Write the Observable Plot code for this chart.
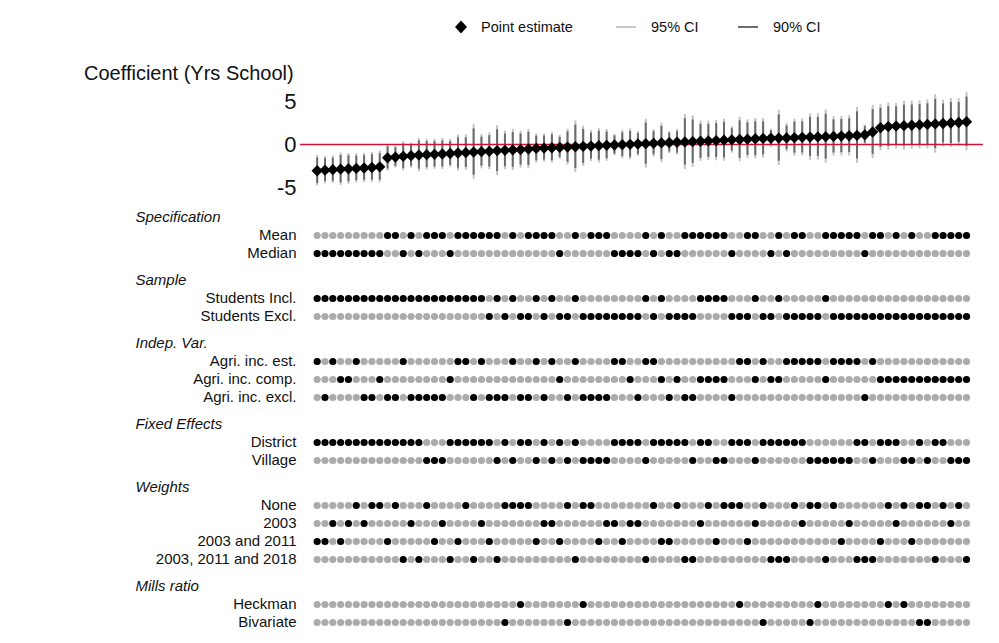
<!DOCTYPE html>
<html><head><meta charset="utf-8">
<script src="https://cdn.jsdelivr.net/npm/d3@7"></script>
<script src="https://cdn.jsdelivr.net/npm/@observablehq/plot@0.6"></script>
<style>
body{margin:0;background:#fff;font-family:"Liberation Sans",Arial,Helvetica,sans-serif;}
#wrap{position:relative;width:999px;height:643px;overflow:hidden;background:#fff;}
.abs{position:absolute;white-space:nowrap;}
.leg{font-size:14.5px;color:#111;top:18px;line-height:18px;}
.title{font-size:20px;color:#111;left:84px;top:62px;}
</style></head>
<body><div id="wrap"></div>
<script>
// ---- Data ----
const estimate = [
 -3.05,-2.98,-2.93,-2.87,-2.83,-2.78,-2.73,-2.67,-2.60,
 -1.55,-1.46,-1.38,-1.30,-1.23,-1.18,-1.14,-1.10,-1.05,-0.99,-0.94,-0.88,-0.83,-0.79,-0.72,-0.68,-0.63,-0.59,-0.52,
 -0.46,-0.42,-0.38,-0.34,-0.30,-0.26,-0.22,-0.18,-0.14,-0.10,-0.06,-0.02,0.02,0.06,0.10,0.14,0.18,0.22,0.26,0.30,0.34,0.38,0.42,0.46,0.50,0.54,0.58,0.62,0.67,
 0.71,0.73,0.75,0.77,0.80,0.83,0.86,0.88,0.91,0.94,0.98,1.02,1.06,1.12,
 1.45,1.95,2.08,2.14,2.19,2.24,2.29,2.34,2.39,2.44,2.50,2.56,2.65];
const hw95 = [1.78,1.60,1.60,1.90,1.80,1.70,1.70,1.75,1.85,1.55, 1.30,1.70,1.45,1.95,1.80,1.75,1.80,1.65,2.10,2.05,
 3.20,2.00,2.15,2.90,2.25,2.40,2.15,2.30,1.70,1.65, 1.80,1.40,2.10,3.00,2.35,1.80,2.00,1.85,1.25,1.65,
 1.80,1.45,2.85,1.60,2.30,1.30,1.50,3.20,3.00,2.35, 2.30,2.35,2.45,1.55,2.60,2.25,2.35,2.30,1.05,3.20,
 1.65,2.15,2.15,2.70,2.70,3.10,2.30,2.30,2.35,3.25, 1.15,3.10,2.70,2.75,2.65,2.85,2.80,2.80,2.85,3.40,
 2.70,2.85,2.75,3.40];
const hw90 = [1.50,1.34,1.34,1.60,1.51,1.43,1.43,1.47,1.55,1.30, 1.09,1.43,1.22,1.64,1.51,1.47,1.51,1.39,1.76,1.72,
 2.69,1.68,1.81,2.44,1.89,2.02,1.81,1.93,1.43,1.39, 1.51,1.18,1.76,2.52,1.97,1.51,1.68,1.55,1.05,1.39,
 1.51,1.22,2.39,1.34,1.93,1.09,1.26,2.69,2.52,1.97, 1.93,1.97,2.06,1.30,2.18,1.89,1.97,1.93,0.88,2.69,
 1.39,1.81,1.81,2.27,2.27,2.60,1.93,1.93,1.97,2.73, 0.97,2.60,2.27,2.31,2.23,2.39,2.35,2.35,2.39,2.86,
 2.27,2.39,2.31,2.86];
// One character per specification (left to right)
// estimator: A=Mean, D=Median, H=Heckman, B=Bivariate
const estimator = "DDDDDDDDDAADADAAADAAAAAABAHAAAADBAHAAADDDDADADDAAAAAADHAABDADAABHAAAAADAAHAHABBAAAAA";
// sample: I=Students Incl., E=Students Excl.
const sample    = "IIIIIIIIIIIIIIIIIIIIIIEIEIEEIEIEEIEEEEEEEEIEIEEEEIIIIEEEIEEIEEEEEIEEEEEEEEEEEEEEEEEE";
// independent variable: S=est., C=comp., X=excl.
const indepVar  = "SXSCCSXXCXXSXXXXXCSSXSXXXSXXSXSCXSXXXXSSCXSSCXCXXCCCCXSSCSCCSSSSSCSSSSXSCCCCCCCCCCCC";
// fixed effects: D=District, V=Village
const fixedEff  = "DDDDDDDDDDDDDDVVVDDDDDDVDVDDVDVDVDVVVVDDDDVDDDDDVDDVVDDDVDDDDDDVVVVVVDDVDDDVVDVDDVVV";
// weights: N=None, A=2003, B=2003 and 2011, C=2003, 2011 and 2018
const weights   = "BBABANANNBNCACNBACBNCABCNNNNBAABNCNNBAABAACNBBNCCANBNNNBANCCCNANNCNBACCCBNANBNNCNANC";

const groups = ["Specification","Sample","Indep. Var.","Fixed Effects","Weights","Mills ratio"];
const rowLabels = [
  ["Mean","Median"],
  ["Students Incl.","Students Excl."],
  ["Agri. inc. est.","Agri. inc. comp.","Agri. inc. excl."],
  ["District","Village"],
  ["None","2003","2003 and 2011","2003, 2011 and 2018"],
  ["Heckman","Bivariate"]
];
const rowSeries = [
  [estimator,"A"],[estimator,"D"],
  [sample,"I"],[sample,"E"],
  [indepVar,"S"],[indepVar,"C"],[indepVar,"X"],
  [fixedEff,"D"],[fixedEff,"V"],
  [weights,"N"],[weights,"A"],[weights,"B"],[weights,"C"],
  [estimator,"H"],[estimator,"B"]
];

// ---- Build ----
const n = estimate.length;
const specs = d3.range(n).map(i => ({
  i, est: estimate[i],
  lo95: estimate[i]-hw95[i], hi95: estimate[i]+hw95[i],
  lo90: estimate[i]-hw90[i], hi90: estimate[i]+hw90[i]
}));
const font = "'Liberation Sans', Arial, Helvetica, sans-serif";
const xDomain = [-2.13, 85.17];
const wrap = document.getElementById("wrap");

// legend
function addAbs(html, cls, left, top){
  const d = document.createElement("div");
  d.className = "abs " + cls; d.style.left = left+"px"; if(top!=null) d.style.top = top+"px";
  d.innerHTML = html; wrap.appendChild(d); return d;
}
addAbs('<svg width="16" height="18"><path d="M7,2.5 L13,9 L7,15.5 L1,9 Z" fill="#000"/></svg>', "leg", 454, 18);
addAbs("Point estimate", "leg", 481);
addAbs('<svg width="22" height="18"><rect x="0" y="8" width="20" height="2" fill="#c9c9c9"/></svg>', "leg", 616);
addAbs("95% CI", "leg", 651);
addAbs('<svg width="22" height="18"><rect x="0" y="8" width="20" height="2" fill="#6e6e6e"/></svg>', "leg", 738);
addAbs("90% CI", "leg", 773);
addAbs("Coefficient (Yrs School)", "title", 84);

// top: estimates
const topPlot = Plot.plot({
  width: 999, height: 125,
  marginLeft: 300, marginRight: 16, marginTop: 10, marginBottom: 10,
  style: {fontFamily: font, background: "transparent", overflow: "visible"},
  x: {domain: xDomain, axis: null},
  y: {domain: [-5.93, 6.28]},
  marks: [
    Plot.ruleX(specs, {x: "i", y1: "lo95", y2: "hi95", stroke: "#c4c4c4", strokeWidth: 2}),
    Plot.ruleX(specs, {x: "i", y1: "lo90", y2: "hi90", stroke: "#6a6a6a", strokeWidth: 2}),
    Plot.ruleY([0], {stroke: "#cc1236", strokeWidth: 1.6}),
    Plot.dot(specs, {x: "i", y: "est", symbol: "diamond2", r: 5.1, fill: "#000", stroke: "none"}),
    Plot.axisY({ticks: [-5, 0, 5], tickSize: 0, tickPadding: 4, fontSize: 22, tickFormat: d => String(d), label: null, color: "#111"})
  ]
});
topPlot.style.position = "absolute"; topPlot.style.left = "0px"; topPlot.style.top = "80px";
wrap.appendChild(topPlot);

// bottom: indicator matrix
const headers = [], labels = [], cells = [];
let slot = 0, r = 0;
groups.forEach((g, gi) => {
  headers.push({label: g, slot});
  rowLabels[gi].forEach((lab, k) => {
    const s = slot + 1 + k;
    labels.push({label: lab, slot: s});
    const [series, code] = rowSeries[r++];
    for (let i = 0; i < n; i++) cells.push({i, slot: s, on: series[i] === code});
  });
  slot = slot + rowLabels[gi].length + 1.5;
});
const matPlot = Plot.plot({
  width: 999, height: 443,
  marginLeft: 300, marginRight: 16, marginTop: 16, marginBottom: 22,
  style: {fontFamily: font, background: "transparent", overflow: "visible"},
  x: {domain: xDomain, axis: null},
  y: {domain: [0, 22.5], reverse: true, axis: null},
  marks: [
    Plot.dot(cells, {x: "i", y: "slot", r: 3.6, fill: d => d.on ? "#000" : "#ababab", stroke: "none"}),
    Plot.text(labels, {y: "slot", text: "label", frameAnchor: "left", dx: -4, textAnchor: "end", fontSize: 15, fill: "#111"}),
    Plot.text(headers, {y: "slot", text: "label", frameAnchor: "left", dx: -165, textAnchor: "start", fontSize: 15, fontStyle: "italic", fill: "#111"})
  ]
});
matPlot.style.position = "absolute"; matPlot.style.left = "0px"; matPlot.style.top = "200.5px";
wrap.appendChild(matPlot);
</script></body></html>
